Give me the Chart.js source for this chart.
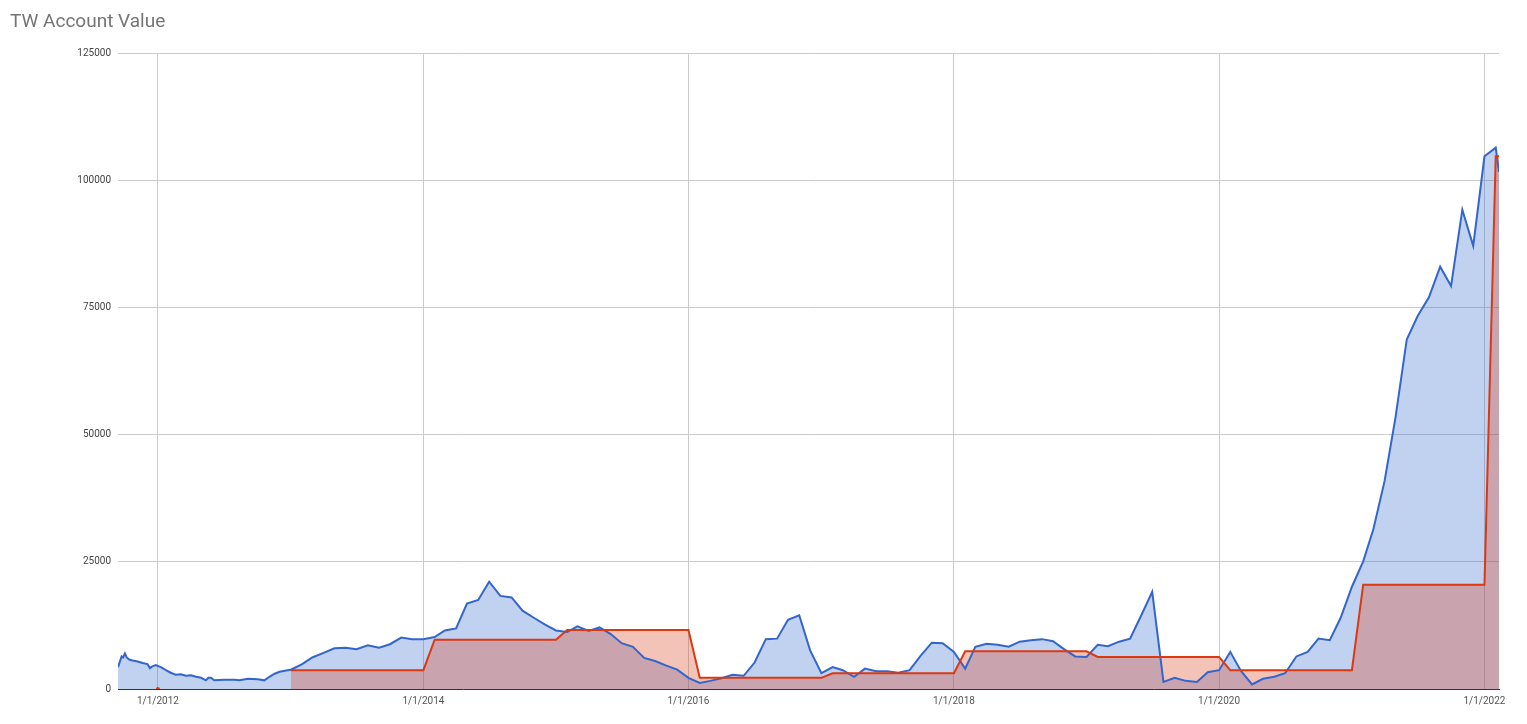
<!DOCTYPE html>
<html lang="en">
<head>
    <meta charset="UTF-8">
    <title>TW Account Value</title>
    <style>
        * {
            margin: 0;
            padding: 0;
            box-sizing: border-box;
        }

        body {
            background: #ffffff;
            font-family: Roboto, "Noto Sans", sans-serif;
        }

        .wrapper {
            position: relative;
            width: 1527px;
            height: 724px;
        }

        .title {
            position: absolute;
            left: 10px;
            top: 9px;
            font-size: 19px;
            color: #757575;
            z-index: 2;
        }

        #chart {
            position: absolute;
            left: 0;
            top: 0;
        }
    </style>
</head>
<body>
    <div class="wrapper">
        <div class="title">TW Account Value</div>
        <canvas id="chart" width="1527" height="724"></canvas>
    </div>
    <script src="https://cdn.jsdelivr.net/npm/chart.js@4/dist/chart.umd.min.js"></script>
    <script>
        // blue series: account value
        const blueDates = [
            "2011-09-13", "2011-09-23", "2011-09-27", "2011-10-02", "2011-10-07", "2011-10-14",
            "2011-10-23", "2011-11-06", "2011-11-20", "2011-12-03", "2011-12-10", "2011-12-15",
            "2011-12-26", "2012-01-09", "2012-01-23", "2012-02-05", "2012-02-19", "2012-03-04",
            "2012-03-18", "2012-04-01", "2012-04-15", "2012-04-29", "2012-05-12", "2012-05-19",
            "2012-05-26", "2012-06-04", "2012-07-02", "2012-07-30", "2012-08-12", "2012-09-05",
            "2012-10-02", "2012-10-20", "2012-11-03", "2012-11-17", "2012-12-01", "2012-12-15",
            "2013-01-01", "2013-02-01", "2013-03-01", "2013-04-01", "2013-05-01", "2013-06-01",
            "2013-07-01", "2013-08-01", "2013-09-01", "2013-10-01", "2013-11-01", "2013-12-01",
            "2014-01-01", "2014-02-01", "2014-03-01", "2014-04-01", "2014-05-01", "2014-06-01",
            "2014-07-01", "2014-08-01", "2014-09-01", "2014-10-01", "2014-11-01", "2014-12-01",
            "2015-01-01", "2015-02-01", "2015-03-01", "2015-04-01", "2015-05-01", "2015-06-01",
            "2015-07-01", "2015-08-01", "2015-09-01", "2015-10-01", "2015-11-01", "2015-12-01",
            "2016-01-01", "2016-02-01", "2016-03-01", "2016-04-01", "2016-05-01", "2016-06-01",
            "2016-07-01", "2016-08-01", "2016-09-01", "2016-10-01", "2016-11-01", "2016-12-01",
            "2017-01-01", "2017-02-01", "2017-03-01", "2017-04-01", "2017-05-01", "2017-06-01",
            "2017-07-01", "2017-08-01", "2017-09-01", "2017-10-01", "2017-11-01", "2017-12-01",
            "2018-01-01", "2018-02-01", "2018-03-01", "2018-04-01", "2018-05-01", "2018-06-01",
            "2018-07-01", "2018-08-01", "2018-09-01", "2018-10-01", "2018-11-01", "2018-12-01",
            "2019-01-01", "2019-02-01", "2019-03-01", "2019-04-01", "2019-05-01", "2019-06-01",
            "2019-07-01", "2019-08-01", "2019-09-01", "2019-10-01", "2019-11-01", "2019-12-01",
            "2020-01-01", "2020-02-01", "2020-03-01", "2020-04-01", "2020-05-01", "2020-06-01",
            "2020-07-01", "2020-08-01", "2020-09-01", "2020-10-01", "2020-11-01", "2020-12-01",
            "2021-01-01", "2021-02-01", "2021-03-01", "2021-04-01", "2021-05-01", "2021-06-01",
            "2021-07-01", "2021-08-01", "2021-09-01", "2021-10-01", "2021-11-01", "2021-12-01",
            "2022-01-01", "2022-02-01", "2022-02-10"
        ];
        const blueValues = [
            4300, 6400, 6200, 7000, 6200, 5800,
            5600, 5400, 5100, 4900, 4100, 4400,
            4700, 4300, 3700, 3200, 2800, 2900,
            2600, 2700, 2400, 2200, 1700, 2200,
            2200, 1700, 1800, 1800, 1700, 2000,
            1900, 1700, 2400, 3000, 3400, 3600,
            3800, 4900, 6200, 7100, 8000, 8100, 7800, 8600, 8100, 8800, 10100, 9800,
            9800, 10200, 11500, 11900, 16800, 17500, 21100, 18300, 18000, 15400, 14000, 12700,
            11500, 11200, 12300, 11400, 12100, 10800, 9000, 8300, 6100, 5500, 4600, 3800,
            2200, 1200, 1600, 2100, 2800, 2600, 5200, 9800, 9900, 13600, 14500, 7600,
            3100, 4300, 3700, 2400, 4000, 3500, 3500, 3200, 3700, 6500, 9100, 9000,
            7300, 4000, 8300, 8900, 8700, 8300, 9300, 9600, 9800, 9400, 7800, 6400,
            6300, 8700, 8400, 9300, 9900, 14500, 19100, 1400, 2200, 1600, 1400, 3300,
            3700, 7300, 3600, 900, 2000, 2400, 3100, 6400, 7300, 9900, 9600, 14000,
            20100, 25100, 31400, 40900, 53400, 68700, 73300, 77000, 83000, 79200, 94200, 87100,
            104700, 106400, 101600
        ];

        // red series: stepped deposits, one lone point in 2012
        const redDates = [
            "2012-01-01", "2012-06-01",
            "2013-01-01", "2014-01-01", "2014-02-01", "2015-01-01", "2015-02-01",
            "2016-01-01", "2016-02-01", "2017-01-01", "2017-02-01", "2018-01-01",
            "2018-02-01", "2019-01-01", "2019-02-01", "2020-01-01", "2020-02-01",
            "2021-01-01", "2021-02-01", "2022-01-01", "2022-02-01", "2022-02-10"
        ];
        const redValues = [
            0, null,
            3700, 3700, 9700, 9700, 11600,
            11600, 2200, 2200, 3100, 3100,
            7400, 7400, 6300, 6300, 3700,
            3700, 20500, 20500, 104700, 104700
        ];

        const tickYears = [2012, 2014, 2016, 2018, 2020, 2022];

        const toPoints = (dates, values) =>
            dates.map((d, i) => ({ x: Date.parse(d), y: values[i] }));

        const ctx = document.getElementById("chart");

        new Chart(ctx, {
            type: "line",
            data: {
                datasets: [
                    {
                        data: toPoints(redDates, redValues),
                        borderColor: "#dc3912",
                        backgroundColor: "rgba(220, 57, 18, 0.3)",
                        borderWidth: 2,
                        fill: "origin",
                        tension: 0,
                        spanGaps: false,
                        pointRadius: (c) => (c.dataIndex === 0 ? 2 : 0),
                        pointBackgroundColor: "#dc3912",
                        pointBorderWidth: 0,
                    },
                    {
                        data: toPoints(blueDates, blueValues),
                        borderColor: "#3366cc",
                        backgroundColor: "rgba(51, 102, 204, 0.3)",
                        borderWidth: 2,
                        fill: "origin",
                        tension: 0,
                        pointRadius: 0,
                    },
                ],
            },
            options: {
                responsive: false,
                animation: false,
                events: [],
                layout: {
                    padding: { left: 0, right: 28, top: 53, bottom: 0 },
                },
                plugins: {
                    legend: { display: false },
                    tooltip: { enabled: false },
                    filler: { drawTime: "beforeDatasetsDraw" },
                },
                scales: {
                    x: {
                        type: "linear",
                        min: Date.parse("2011-09-13"),
                        max: Date.parse("2022-02-10"),
                        afterBuildTicks: (scale) => {
                            scale.ticks = tickYears.map((y) => ({ value: Date.UTC(y, 0, 1) }));
                        },
                        afterFit: (scale) => {
                            scale.height = 35;
                        },
                        grid: {
                            color: "#cccccc",
                            drawTicks: false,
                        },
                        border: { color: "#333333", width: 1 },
                        ticks: {
                            padding: 6,
                            maxRotation: 0,
                            autoSkip: false,
                            color: "#555555",
                            font: { family: "Roboto", size: 10 },
                            callback: (v) => "1/1/" + new Date(v).getUTCFullYear(),
                        },
                    },
                    y: {
                        min: 0,
                        max: 125000,
                        afterFit: (scale) => {
                            scale.width = 118;
                        },
                        grid: {
                            color: "#cccccc",
                            drawTicks: false,
                        },
                        border: { display: false },
                        ticks: {
                            stepSize: 25000,
                            padding: 7,
                            color: "#444444",
                            font: { family: "Roboto", size: 10 },
                            callback: (v) => String(v),
                        },
                    },
                },
            },
        });
    </script>
</body>
</html>
